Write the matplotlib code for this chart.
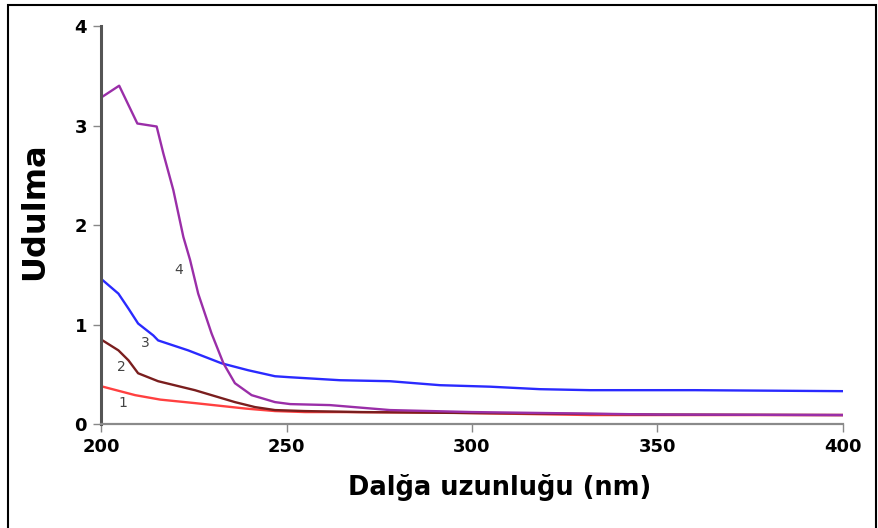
import matplotlib
matplotlib.use("Agg")
import matplotlib.pyplot as plt
from matplotlib.patches import Rectangle

plt.rcParams['font.family'] = ['DejaVu Sans']

# Absorption spectra (wavelength in nm, absorbance)
wl_1 = [200, 209.2, 216, 225.3, 239, 246.9, 255, 264, 291, 332, 360, 400]
abs_1 = [0.38, 0.29, 0.245, 0.21, 0.155, 0.13, 0.12, 0.12, 0.115, 0.09, 0.09, 0.09]

wl_2 = [200, 204.7, 207.4, 210, 215.4, 225.3, 236.1, 241.5, 246.9, 255, 270, 300, 350, 400]
abs_2 = [0.85, 0.74, 0.64, 0.51, 0.43, 0.34, 0.22, 0.17, 0.14, 0.13, 0.12, 0.11, 0.095, 0.09]

wl_3 = [200, 204.7, 207.4, 210, 214.1, 215.4, 223.5, 232.5, 239.7, 246.9, 250.9, 264.4,
        277.9, 291.4, 304.9, 318.3, 331.8, 360, 400]
abs_3 = [1.46, 1.31, 1.16, 1.01, 0.89, 0.84, 0.74, 0.61, 0.54, 0.48, 0.47, 0.44,
         0.43, 0.39, 0.375, 0.35, 0.34, 0.34, 0.33]

wl_4 = [200, 204.9, 209.8, 215, 216.8, 219.5, 222.2, 224, 226.2, 229.8, 233, 236.1,
        240.6, 246.9, 251, 261.7, 277.9, 300, 350, 400]
abs_4 = [3.28, 3.40, 3.02, 2.99, 2.72, 2.35, 1.88, 1.65, 1.31, 0.91, 0.61, 0.41,
         0.29, 0.22, 0.20, 0.19, 0.14, 0.12, 0.095, 0.09]

series_labels = ["1", "2", "3", "4"]
label_x = [205.9, 205.4, 211.9, 220.9]
label_y = [0.21, 0.57, 0.81, 1.55]

x_ticks = [200, 250, 300, 350, 400]
y_ticks = [0, 1, 2, 3, 4]

colors = ["#ff4040", "#7a1e1e", "#2a2aff", "#9a2ea8"]

fig = plt.figure(figsize=(8.79, 5.28), dpi=100)
ax = fig.add_axes([101 / 879, 104 / 528, 742 / 879, 398 / 528])

for xs, ys, c in zip([wl_1, wl_2, wl_3, wl_4], [abs_1, abs_2, abs_3, abs_4], colors):
    ax.plot(xs, ys, color=c, lw=1.7, solid_joinstyle='round')

for t, lx, ly in zip(series_labels, label_x, label_y):
    ax.text(lx, ly, t, fontsize=10, color="#444444", ha="center", va="center")

ax.set_xlim(200, 400)
ax.set_ylim(0, 4)
ax.set_xticks(x_ticks)
ax.set_yticks(y_ticks)
ax.tick_params(axis='both', direction='out', length=6, width=1, color="#888888",
               labelsize=13, pad=4)
for lab in ax.get_xticklabels() + ax.get_yticklabels():
    lab.set_fontweight('bold')

ax.spines['top'].set_visible(False)
ax.spines['right'].set_visible(False)
ax.spines['left'].set_color("#555555")
ax.spines['left'].set_linewidth(2.2)
ax.spines['bottom'].set_color("#8a8a8a")
ax.spines['bottom'].set_linewidth(1.6)

ax.set_xlabel("Dalğa uzunluğu (nm)", fontsize=18.5, fontweight='bold')
ax.xaxis.set_label_coords(399 / 742, -50 / 398, transform=ax.transAxes)
ax.set_ylabel("Udulma", fontsize=23, fontweight='bold')
ax.yaxis.set_label_coords(-51 / 742, 213 / 398, transform=ax.transAxes)

# outer frame around the figure
fig.patches.append(Rectangle((8 / 879, -0.01), 868 / 879, 1 - 5 / 528 + 0.01,
                             transform=fig.transFigure, fill=False,
                             edgecolor="black", lw=1.5))

fig.savefig("out.png", dpi=100)
